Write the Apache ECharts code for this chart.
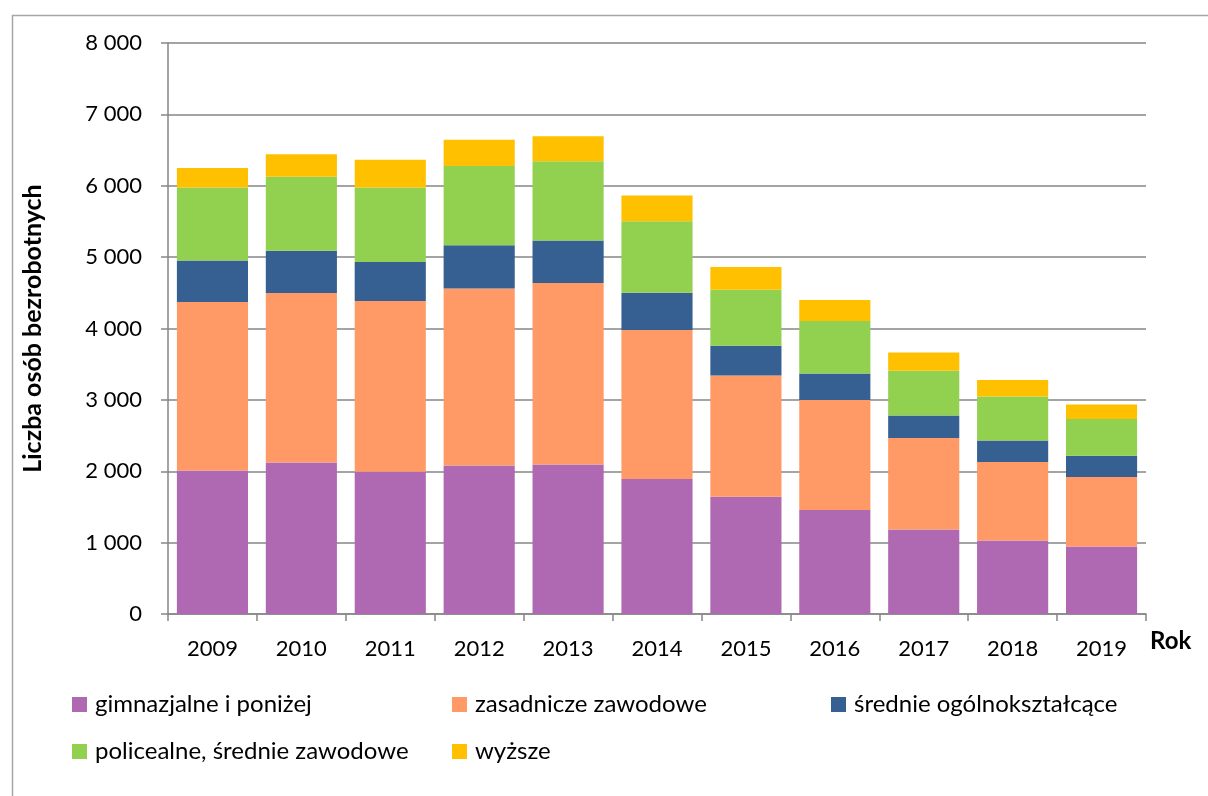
<!DOCTYPE html>
<html>
<head>
<meta charset="utf-8">
<script src="https://cdn.jsdelivr.net/npm/echarts@6/dist/echarts.min.js"></script>
<style>
html,body{margin:0;padding:0;background:#fff;}
#chart{width:1208px;height:796px;}
</style>
</head>
<body>
<div id="chart"></div>
<script>
const years = ['2009','2010','2011','2012','2013','2014','2015','2016','2017','2018','2019'];
const seriesNames = ['gimnazjalne i poniżej','zasadnicze zawodowe','średnie ogólnokształcące','policealne, średnie zawodowe','wyższe'];
const gimnazjalne = [2010, 2123, 1993, 2081, 2095, 1891, 1643, 1457, 1185, 1031, 947];
const zasadnicze  = [2363, 2373, 2391, 2479, 2541, 2087, 1699, 1540, 1280, 1098, 972];
const srednieOgol = [578, 592, 546, 608, 596, 522, 416, 373, 317, 302, 298];
const policealne  = [1023, 1037, 1045, 1107, 1113, 1004, 784, 734, 626, 617, 514];
const wyzsze      = [276, 318, 388, 368, 350, 359, 318, 294, 256, 229, 205];
const yTicks = [0, 1000, 2000, 3000, 4000, 5000, 6000, 7000, 8000];

const colors = ['#AE69B2', '#FF9966', '#366092', '#92D050', '#FFC000'];
const dataSets = [gimnazjalne, zasadnicze, srednieOgol, policealne, wyzsze];
const font = 'Lato, "Open Sans", sans-serif';

const legendPos = [[72, 692], [452, 692], [831, 692], [72, 739], [452, 739]];

const chart = echarts.init(document.getElementById('chart'), null, {renderer: 'canvas'});
chart.setOption({
  animation: false,
  backgroundColor: '#fff',
  color: colors,
  textStyle: {fontFamily: font, color: '#000'},
  grid: {left: 168, right: 62, top: 43, bottom: 182, containLabel: false},
  legend: seriesNames.map((n, i) => ({
    data: [n],
    left: legendPos[i][0],
    top: legendPos[i][1],
    padding: 0,
    itemWidth: 15,
    itemHeight: 15,
    itemGap: 0,
    icon: 'rect',
    selectedMode: false,
    textStyle: {fontFamily: font, fontSize: 24, lineHeight: 25, color: '#000', padding: [0, 0, 0, 3]}
  })),
  graphic: [
    {type: 'rect', left: 10, top: 13, shape: {width: 1300, height: 900},
     style: {fill: 'none', stroke: '#a6a6a6', lineWidth: 1.5}, silent: true},
    {type: 'text', left: 1150, top: 629,
     style: {text: 'Rok', font: 'bold 24px ' + font, fill: '#000'}}
  ],
  xAxis: {
    type: 'category',
    data: years,
    axisLine: {show: true, lineStyle: {color: '#868686', width: 1.5}},
    axisTick: {show: true, length: 7, alignWithLabel: false, lineStyle: {color: '#868686', width: 1.5}},
    axisLabel: {fontSize: 22, fontFamily: font, color: '#000', margin: 24},
    splitLine: {show: false}
  },
  yAxis: {
    type: 'value',
    min: 0,
    max: 8000,
    interval: 1000,
    name: 'Liczba osób bezrobotnych',
    nameLocation: 'middle',
    nameGap: 123,
    nameTextStyle: {fontSize: 25, fontWeight: 'bold', fontFamily: font, color: '#000'},
    axisLine: {show: true, lineStyle: {color: '#868686', width: 1.5}},
    axisTick: {show: true, length: 7, inside: false, lineStyle: {color: '#868686', width: 1.5}},
    axisLabel: {
      fontSize: 22, fontFamily: font, color: '#000', margin: 26,
      formatter: v => yTicks.includes(v) ? String(v).replace(/\B(?=(\d{3})+(?!\d))/g, ' ') : ''
    },
    splitLine: {show: true, lineStyle: {color: '#868686', width: 1.5}}
  },
  series: seriesNames.map((n, i) => ({
    name: n,
    type: 'bar',
    stack: 'total',
    data: dataSets[i],
    barCategoryGap: '20%',
    itemStyle: {color: colors[i]}
  }))
});
</script>
</body>
</html>
